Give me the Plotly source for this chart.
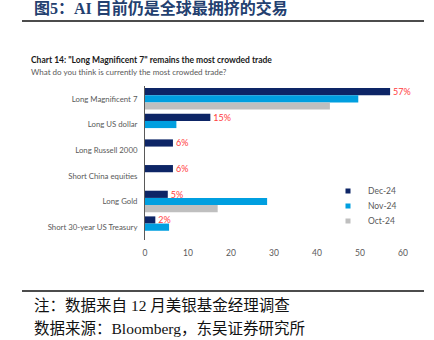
import plotly.graph_objects as go

categories = ["Long Magnificent 7", "Long US dollar", "Long Russell 2000",
              "Short China equities", "Long Gold", "Short 30-year US Treasury"]
dec_24 = [57, 15.2, 6.5, 6.5, 5.3, 2.4]
dec_labels = ["57%", "15%", "6%", "6%", "5%", "2%"]
nov_24 = [49.6, 7.3, 0, 0, 28.4, 5.6]
oct_24 = [43, 0, 0, 0, 16.9, 0]
x_ticks = [0, 10, 20, 30, 40, 50, 60]
series_names = ["Dec-24", "Nov-24", "Oct-24"]
series_colors = ["#0D2566", "#009FE0", "#BFBFBF"]

W, H = 434, 340
L, R, T, B = 145, 31, 86, 100
PW, PH = W - L - R, H - T - B

def px(x):
    return (x - L) / PW

def py(y):
    return (H - B - y) / PH

chart_font = "Lato, Open Sans, sans-serif"
cjk_font = "Liberation Serif, Noto Sans CJK SC"

fig = go.Figure()
for i, vals in enumerate([dec_24, nov_24, oct_24]):
    kw = {}
    if i == 0:
        kw = dict(text=dec_labels, textposition="outside", cliponaxis=False,
                  constraintext="none",
                  textfont=dict(color="#FF3B3B", size=9, family=chart_font))
    fig.add_trace(go.Bar(y=categories, x=vals, name=series_names[i], orientation="h",
                         marker=dict(color=series_colors[i], line=dict(width=0)),
                         showlegend=False, **kw))

# small square legend symbols, one legend box per series
legend_names = ["legend", "legend2", "legend3"]
legend_y = [191, 206, 221]
for i in range(3):
    fig.add_trace(go.Scatter(x=[None], y=[None], mode="markers", name=series_names[i],
                             marker=dict(symbol="square", size=5, color=series_colors[i]),
                             legend=legend_names[i], showlegend=True))

leg_common = dict(xanchor="left", yanchor="middle",
                  font=dict(family=chart_font, size=8.5, color="#595959"),
                  bgcolor="rgba(0,0,0,0)", itemwidth=30, borderwidth=0)

label_font = dict(family=chart_font, size=8.5, color="#595959")
cat_font = dict(family=chart_font, size=7.8, color="#595959")

fig.update_layout(
    width=W, height=H,
    margin=dict(l=L, r=R, t=T, b=B, pad=0),
    paper_bgcolor="white", plot_bgcolor="white",
    barmode="group", bargap=0.16, bargroupgap=0,
    showlegend=True,
    legend=dict(x=px(328), y=py(legend_y[0]), **leg_common),
    legend2=dict(x=px(328), y=py(legend_y[1]), **leg_common),
    legend3=dict(x=px(328), y=py(legend_y[2]), **leg_common),
    xaxis=dict(range=[0, 60], tickvals=x_ticks, showgrid=False, zeroline=False,
               showline=False, ticks="", tickfont=label_font, ticklabelstandoff=6),
    yaxis=dict(autorange="reversed", showgrid=False, zeroline=False,
               showline=True, linecolor="#595959", linewidth=1, ticks="",
               tickfont=cat_font, ticklabelstandoff=5),
    font=dict(family=chart_font),
)

annotations = [
    dict(text="<b>图5：AI 目前仍是全球最拥挤的交易</b>", x=px(32), y=py(8),
         font=dict(family=cjk_font, size=16, color="#23406F")),
    dict(text="<b>Chart 14: \"Long Magnificent 7\" remains the most crowded trade</b>",
         x=px(29), y=py(60),
         font=dict(family=chart_font, size=8.5, color="#1A1A1A")),
    dict(text="What do you think is currently the most crowded trade?", x=px(29), y=py(72),
         font=dict(family=chart_font, size=8, color="#595959")),
    dict(text="注：数据来自 12 月美银基金经理调查", x=px(32), y=py(305),
         font=dict(family=cjk_font, size=15.5, color="#111111")),
    dict(text="数据来源：Bloomberg，东吴证券研究所", x=px(32), y=py(328),
         font=dict(family=cjk_font, size=15.5, color="#111111")),
]
for a in annotations:
    a.update(xref="paper", yref="paper", xanchor="left", yanchor="middle", showarrow=False)
fig.update_layout(annotations=annotations)

fig.add_shape(type="line", xref="paper", yref="paper", x0=px(22), x1=px(424),
              y0=py(21), y1=py(21), line=dict(color="#111111", width=1.5))
fig.add_shape(type="line", xref="paper", yref="paper", x0=px(22), x1=px(424),
              y0=py(291), y1=py(291), line=dict(color="#111111", width=1.5))

fig.write_html("out.html")
